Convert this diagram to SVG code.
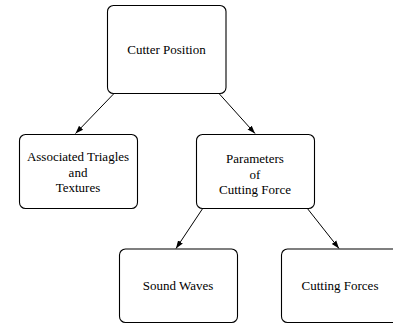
<svg xmlns="http://www.w3.org/2000/svg" width="393" height="325" viewBox="0 0 393 325">
<style>
.box{fill:#fff;stroke:#000;stroke-width:1.1}
.t{font-size:13px;fill:#000;text-anchor:middle}
.c{stroke:#000;stroke-width:1;fill:none;marker-end:url(#ah)}
</style>
<defs>
<marker id="ah" viewBox="0 0 10 10" refX="10" refY="5" markerWidth="8" markerHeight="8" markerUnits="userSpaceOnUse" orient="auto">
<path d="M0,1.5 L10,5 L0,8.5 z" fill="#000"/>
</marker>
</defs>
<rect width="393" height="325" fill="#fff"/>
<g id="connectors">
<line class="c" x1="114" y1="93.5" x2="75.5" y2="133.5"/>
<line class="c" x1="219" y1="93.5" x2="255" y2="133.5"/>
<line class="c" x1="203" y1="208" x2="176" y2="248.5"/>
<line class="c" x1="307" y1="208" x2="339" y2="248.5"/>
</g>
<g font-family="'Liberation Serif', 'Times New Roman', Times, serif">
<g id="cutter-position">
<rect class="box" x="107.5" y="5.5" width="118.5" height="88" rx="6"/>
<text class="t" x="166.5" y="54">Cutter Position</text>
</g>
<g id="associated">
<rect class="box" x="19.5" y="134.5" width="118" height="74" rx="6"/>
<text class="t" x="78" y="161">Associated Triagles</text>
<text class="t" x="78" y="176.5">and</text>
<text class="t" x="78" y="192">Textures</text>
</g>
<g id="parameters">
<rect class="box" x="196.5" y="134.5" width="118" height="74" rx="6"/>
<text class="t" x="255" y="163">Parameters</text>
<text class="t" x="255" y="178.5">of</text>
<text class="t" x="255" y="194">Cutting Force</text>
</g>
<g id="sound-waves">
<rect class="box" x="119.5" y="249" width="118" height="73.5" rx="6"/>
<text class="t" x="178" y="289.5">Sound Waves</text>
</g>
<g id="cutting-forces">
<rect class="box" x="281.5" y="249" width="118" height="73.5" rx="6"/>
<text class="t" x="340" y="289.5">Cutting Forces</text>
</g>
</g>
</svg>
